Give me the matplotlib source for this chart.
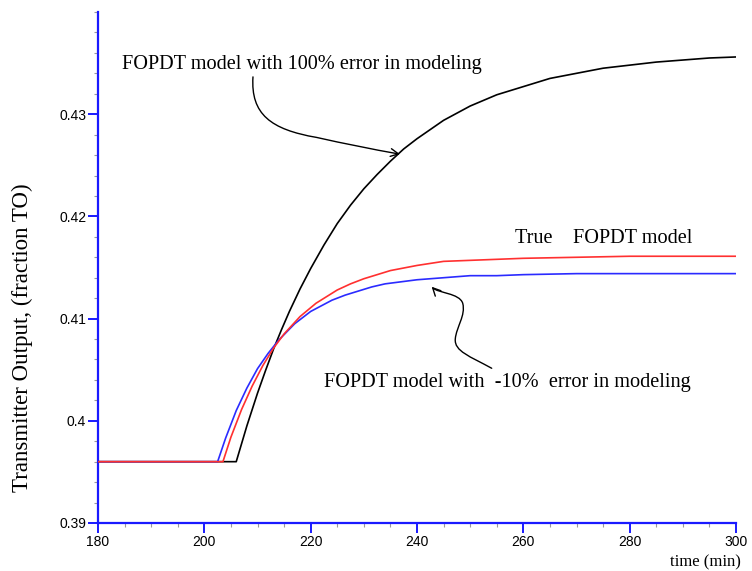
import matplotlib
matplotlib.use("Agg")
import matplotlib.pyplot as plt
from matplotlib.patches import FancyArrowPatch
from matplotlib.path import Path
from matplotlib.ticker import MultipleLocator

# Process response after the step change
true_t = [180, 203.5, 205, 207, 209, 211, 213, 215, 218, 221, 225, 227.5, 230,
          232.5, 235, 240, 245, 250, 255, 260, 270, 280, 290, 300]
true_y = [0.396, 0.396, 0.3984, 0.4011, 0.4034, 0.4054, 0.4071, 0.4085, 0.4102,
          0.4115, 0.4128, 0.4134, 0.4139, 0.4143, 0.4147, 0.4152, 0.4156, 0.4157,
          0.4158, 0.4159, 0.4160, 0.4161, 0.4161, 0.4161]

minus10_t = [180, 202.5, 204, 206, 208, 210, 212, 214, 217, 220, 224, 226.5, 229,
             231.5, 234, 237, 240, 245, 250, 255, 260, 270, 280, 290, 300]
minus10_y = [0.396, 0.396, 0.3983, 0.4010, 0.4032, 0.4051, 0.4066, 0.4079, 0.4095,
             0.4107, 0.4118, 0.4123, 0.4127, 0.4131, 0.4134, 0.4136, 0.4138, 0.4140,
             0.4142, 0.4142, 0.4143, 0.4144, 0.4144, 0.4144, 0.4144]

plus100_t = [180, 206, 208, 210, 211.5, 213, 214.5, 216, 218, 220, 222.5, 225,
             227.5, 230, 232.5, 235, 237.5, 240, 242.5, 245, 247.5, 250, 255, 260,
             265, 270, 275, 280, 285, 290, 295, 300]
plus100_y = [0.396, 0.396, 0.3995, 0.4027, 0.4049, 0.4070, 0.4089, 0.4107, 0.4129,
             0.4149, 0.4172, 0.4193, 0.4211, 0.4227, 0.4241, 0.4254, 0.4266, 0.4276,
             0.4285, 0.4294, 0.4301, 0.4308, 0.4319, 0.4327, 0.4335, 0.4340, 0.4345,
             0.4348, 0.4351, 0.4353, 0.4355, 0.4356]

x_ticks = [180, 200, 220, 240, 260, 280, 300]
y_ticks = [0.39, 0.40, 0.41, 0.42, 0.43]
y_tick_labels = ["0.39", "0.4", "0.41", "0.42", "0.43"]

SERIF = "Liberation Serif"
SANS = "Liberation Sans"
AXIS_BLUE = "#1a1aff"

fig = plt.figure(figsize=(7.52, 5.71), dpi=100)
ax = fig.add_axes([98 / 752, 1 - 523 / 571, (736 - 98) / 752, (523 - 12) / 571])

ax.plot(plus100_t, plus100_y, color="black", lw=1.2, zorder=3)
ax.plot(minus10_t, minus10_y, color="#2b2bff", lw=1.2, zorder=4)
ax.plot(true_t, true_y, color="#ff3030", lw=1.2, zorder=5)

ax.set_xlim(180, 300)
ax.set_ylim(0.39, 0.44)

for side in ("top", "right"):
    ax.spines[side].set_visible(False)
for side in ("left", "bottom"):
    ax.spines[side].set_color(AXIS_BLUE)
    ax.spines[side].set_linewidth(1.6)

ax.set_xticks(x_ticks)
ax.set_yticks(y_ticks)
ax.set_yticklabels(y_tick_labels)
ax.xaxis.set_minor_locator(MultipleLocator(5))
ax.yaxis.set_minor_locator(MultipleLocator(0.002))
ax.tick_params(which="major", direction="out", length=7, width=1.4,
               color=AXIS_BLUE, labelsize=10, pad=1.5)
ax.tick_params(which="minor", direction="out", length=3, width=0.8, color="#9a9a9a")
for lab in ax.get_xticklabels() + ax.get_yticklabels():
    lab.set_fontfamily(SANS)

# Axis titles
fig.text(22 / 752, 1 - 338 / 571, "Transmitter Output, (fraction TO)",
         rotation=90, ha="center", va="center", fontsize=16.5, family=SERIF)
fig.text(741 / 752, 1 - 562 / 571, "time (min)", ha="right", va="center",
         fontsize=12, family=SERIF)

# Curve annotations
ax.text(218.4, 0.43483, "FOPDT model with 100% error in modeling",
        ha="center", va="center", fontsize=14.6, family=SERIF)
ax.text(275.2, 0.41781, "True    FOPDT model",
        ha="center", va="center", fontsize=14.6, family=SERIF)
ax.text(257.0, 0.40379, "FOPDT model with  -10%  error in modeling",
        ha="center", va="center", fontsize=14.6, family=SERIF)

# Hand-drawn style pointers
path1 = Path(
    [(209.15, 0.43365), (208.7, 0.4300), (212.5, 0.4285), (221.1, 0.42773),
     (229.0, 0.4268), (236.8, 0.42609)],
    [Path.MOVETO, Path.CURVE4, Path.CURVE4, Path.CURVE4, Path.CURVE3, Path.CURVE3],
)
ax.add_patch(FancyArrowPatch(path=path1, arrowstyle="->", mutation_scale=14,
                             color="black", lw=1.0, zorder=6))

path2 = Path(
    [(254.05, 0.40514), (250.0, 0.4063), (247.0, 0.4068), (247.2, 0.40800),
     (247.4, 0.4092), (249.2, 0.4103), (248.6, 0.41150),
     (248.0, 0.4125), (243.9, 0.4125), (242.75, 0.41312)],
    [Path.MOVETO, Path.CURVE4, Path.CURVE4, Path.CURVE4,
     Path.CURVE4, Path.CURVE4, Path.CURVE4,
     Path.CURVE4, Path.CURVE4, Path.CURVE4],
)
ax.add_patch(FancyArrowPatch(path=path2, arrowstyle="->", mutation_scale=14,
                             color="black", lw=1.0, zorder=6))

fig.savefig("out.png", dpi=100, facecolor="white")
